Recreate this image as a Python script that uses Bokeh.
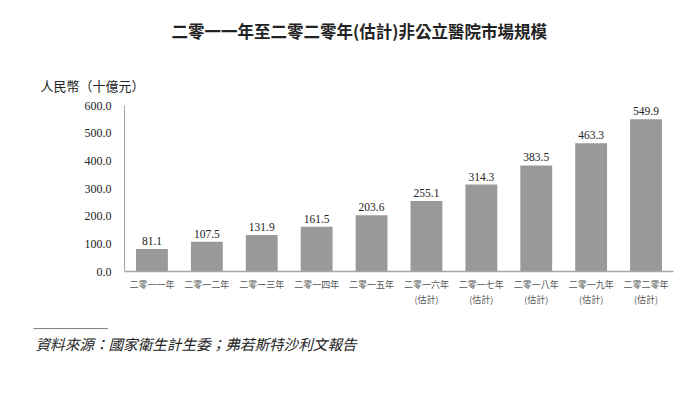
from bokeh.plotting import figure
from bokeh.models import ColumnDataSource, Range1d, FactorRange, Title
from bokeh.core.properties import value
from bokeh.embed import file_html
from bokeh.resources import INLINE

categories = ["二零一一年", "二零一二年", "二零一三年", "二零一四年", "二零一五年",
              "二零一六年\n(估計)", "二零一七年\n(估計)", "二零一八年\n(估計)",
              "二零一九年\n(估計)", "二零二零年\n(估計)"]
market_size = [81.1, 107.5, 131.9, 161.5, 203.6, 255.1, 314.3, 383.5, 463.3, 549.9]
y_ticks = [0, 100, 200, 300, 400, 500, 600]

title_text = "二零一一年至二零二零年(估計)非公立醫院市場規模"
unit_text = "人民幣（十億元）"
source_text = "資料來源：國家衛生計生委；弗若斯特沙利文報告"

CJK = "Noto Sans CJK TC"
SERIF = "Liberation Serif"
BAR = "#999999"
AXIS = "#a6a6a6"

src = ColumnDataSource(dict(cat=categories, val=market_size,
                            lab=[f"{v:.1f}" for v in market_size]))

p = figure(width=683, height=380, x_range=FactorRange(factors=categories),
           y_range=Range1d(0, 600), output_backend="svg", toolbar_location=None,
           min_border_left=124, min_border_right=10, min_border_top=105,
           min_border_bottom=109, title=None)
p.outline_line_color = None
p.background_fill_color = "white"
p.border_fill_color = "white"
p.xgrid.grid_line_color = None
p.ygrid.grid_line_color = None

p.vbar(x="cat", top="val", width=0.58, source=src, fill_color=BAR, line_color=None)
p.text(x="cat", y="val", text="lab", source=src, y_offset=-4,
       text_align="center", text_baseline="bottom",
       text_font=value(SERIF), text_font_size="11.5px", text_color="#222222")

p.yaxis.ticker = y_ticks
p.yaxis.major_label_overrides = {t: f"{t:.1f}" for t in y_ticks}
p.yaxis.axis_line_color = AXIS
p.yaxis.major_tick_line_color = None
p.yaxis.minor_tick_line_color = None
p.yaxis.major_label_text_font = SERIF
p.yaxis.major_label_text_font_size = "12px"
p.yaxis.major_label_text_color = "#222222"
p.yaxis.major_label_standoff = 7

p.xaxis.axis_line_color = AXIS
p.xaxis.axis_line_width = 1.5
p.xaxis.major_tick_line_color = None
p.xaxis.minor_tick_line_color = None
p.xaxis.major_label_text_font = CJK
p.xaxis.major_label_text_font_size = "9px"
p.xaxis.major_label_text_color = "#555555"
p.xaxis.major_label_standoff = 0

p.add_layout(Title(text=unit_text, align="left", offset=-84, standoff=22,
                   text_font=CJK, text_font_size="13px", text_font_style="normal",
                   text_color="#222222"), "above")
p.add_layout(Title(text=title_text, align="left", offset=47, standoff=35,
                   vertical_align="top",
                   text_font=CJK, text_font_size="16.5px", text_font_style="bold",
                   text_color="#222222"), "above")
p.add_layout(Title(text="─" * 10, align="left", offset=-91, standoff=20,
                   text_font="DejaVu Sans", text_font_size="12.3px",
                   text_font_style="normal", text_color="#888888"), "below")
p.add_layout(Title(text=source_text, align="left", offset=-89, standoff=-26,
                   vertical_align="top",
                   text_font=CJK, text_font_size="14.6px", text_font_style="italic",
                   text_color="#222222"), "below")

open("out.html", "w").write(file_html(p, INLINE))
